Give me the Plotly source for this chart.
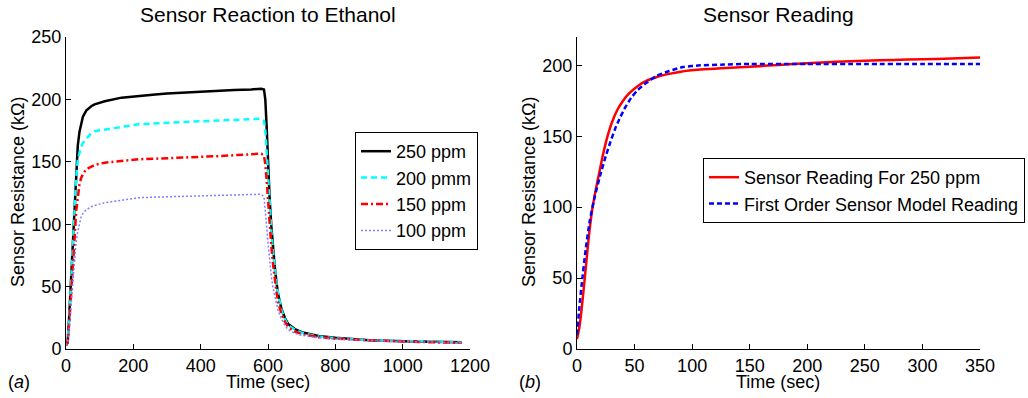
import plotly.graph_objects as go

# ---------- Left panel data (Sensor Reaction to Ethanol) ----------
t_a = [0, 5, 10, 15, 20, 25, 30, 35, 40, 45, 50, 60, 75, 85, 115, 165, 215, 265, 300, 350,
       400, 450, 500, 550, 580, 588, 592, 596, 600, 605, 610, 615, 620, 625, 630, 640, 650,
       660, 680, 700, 750, 800, 900, 1000, 1100, 1175]
r250 = [3, 5, 29, 56, 88, 114, 144, 163, 174, 181, 186, 191, 194.5, 196, 198.5, 201.4, 203,
        204, 204.7, 205.5, 206, 206.5, 207.5, 208, 208.5, 208, 200, 178, 150, 120, 98, 80, 66,
        54, 44, 32, 25, 20, 16, 13.5, 10.5, 9, 7, 6.3, 5.8, 5.5]
r200 = [3, 6, 26, 54, 86, 112, 136, 152, 158, 162, 165, 168.5, 173, 174.5, 176, 178, 180,
        180.8, 181.3, 182, 182.5, 183, 183.5, 184, 184.5, 183, 175, 158, 138, 112, 94, 78, 64,
        53, 44, 31, 24, 19, 15.5, 13, 10, 8.7, 7, 6.3, 5.8, 5.5]
r150 = [3, 6, 22, 42, 60, 86, 110, 122, 132, 137, 140, 144, 146.5, 147.5, 149.3, 150.5, 152,
        152.5, 153, 153.5, 154, 154.5, 155.5, 156, 156.5, 155, 148, 135, 118, 97, 82, 68, 56,
        46, 38, 28, 22, 17.5, 14, 12, 9.5, 8.3, 7, 6, 5.3, 5]
r100 = [3, 6, 18, 36, 55, 75, 86, 94, 100, 106, 108.5, 111.5, 114, 115, 117.2, 119.5, 121.2,
        121.7, 122, 122.5, 123, 123.3, 123.6, 124, 124, 122, 112, 98, 85, 70, 58, 49, 42, 36,
        31, 24, 19, 15.5, 12.5, 11, 9, 8, 6.8, 6, 5.5, 5]

# ---------- Right panel data (Sensor Reading) ----------
t_b = [0, 2, 4, 7, 10, 13, 16, 20, 23, 26, 30, 35, 40, 45, 52, 60, 70, 80, 90, 107, 125, 150,
       175, 200, 225, 250, 275, 300, 325, 350]
reading = [7, 15, 28, 52, 77, 97, 111, 127, 138.5, 148.5, 159, 168.5, 175, 180, 185, 189, 192,
           194, 195.5, 197, 198, 199, 200.3, 201.5, 202.5, 203.3, 203.8, 204.3, 204.8, 205.5]
t_m = [0, 2, 4, 7.5, 11, 15, 20, 25, 29, 33, 37, 42, 47, 52, 60, 69, 80, 92, 107, 125, 150,
       200, 250, 300, 350]
model = [10, 29, 45, 70, 90, 106, 122, 136, 146, 155, 162.5, 170.5, 177, 182, 187.5, 192.5,
         196, 198.8, 200, 200.5, 201, 201, 201, 201, 201]

xticks_a = [0, 200, 400, 600, 800, 1000, 1200]
yticks_a = [0, 50, 100, 150, 200, 250]
xticks_b = [0, 50, 100, 150, 200, 250, 300, 350]
yticks_b = [0, 50, 100, 150, 200]

FONT = "Liberation Sans, Arial, Helvetica, sans-serif"
W, H = 1028, 398


def px(sx):
    return sx / W


def py(sy):
    return 1 - sy / H


fig = go.Figure()
fig.add_trace(go.Scatter(x=t_a, y=r250, mode="lines", name="250 ppm",
                         line=dict(color="black", width=2.5), legend="legend"))
fig.add_trace(go.Scatter(x=t_a, y=r200, mode="lines", name="200 pmm",
                         line=dict(color="#00ffff", width=2.5, dash="6px,4px"), legend="legend"))
fig.add_trace(go.Scatter(x=t_a, y=r150, mode="lines", name="150 ppm",
                         line=dict(color="#ff0000", width=2.5, dash="7px,3px,2px,3px"),
                         legend="legend"))
fig.add_trace(go.Scatter(x=t_a, y=r100, mode="lines", name="100 ppm",
                         line=dict(color="#7f7fff", width=1.5, dash="2px,2px"), legend="legend"))

fig.add_trace(go.Scatter(x=t_b, y=reading, mode="lines", name="Sensor Reading For 250 ppm",
                         line=dict(color="#ff0000", width=2.5, shape="spline", smoothing=0.6),
                         xaxis="x2", yaxis="y2", legend="legend2"))
fig.add_trace(go.Scatter(x=t_m, y=model, mode="lines", name="First Order Sensor Model Reading",
                         line=dict(color="#0000ff", width=2.5, dash="5px,3px", shape="spline",
                                   smoothing=0.6),
                         xaxis="x2", yaxis="y2", legend="legend2"))

ydom = [py(349), py(37)]
axis_common = dict(showline=True, linecolor="black", linewidth=1, ticks="inside", ticklen=5,
                   tickcolor="black", showgrid=False, zeroline=False, automargin=False,
                   tickfont=dict(family=FONT, size=18, color="black"))

fig.update_layout(
    width=W, height=H,
    margin=dict(l=0, r=0, t=0, b=0, autoexpand=False),
    paper_bgcolor="white", plot_bgcolor="white",
    font=dict(family=FONT, color="black"),
    xaxis=dict(domain=[px(66), px(470)], range=[0, 1200], tickvals=xticks_a, anchor="y",
               **axis_common),
    yaxis=dict(domain=ydom, range=[0, 250], tickvals=yticks_a, anchor="x", **axis_common),
    xaxis2=dict(domain=[px(577), px(980)], range=[0, 350], tickvals=xticks_b, anchor="y2",
                **axis_common),
    yaxis2=dict(domain=ydom, range=[0, 220], tickvals=yticks_b, anchor="x2", **axis_common),
    legend=dict(x=px(355), y=py(132), xanchor="left", yanchor="top",
                bordercolor="black", borderwidth=1, bgcolor="white",
                font=dict(family=FONT, size=18, color="black"), itemwidth=30,
                tracegroupgap=0),
    legend2=dict(x=px(703), y=py(158), xanchor="left", yanchor="top",
                 bordercolor="black", borderwidth=1, bgcolor="white",
                 font=dict(family=FONT, size=18, color="black"), itemwidth=30,
                 tracegroupgap=0),
    showlegend=True,
)


def ann(text, sx, sy, size=18, angle=0):
    fig.add_annotation(text=text, x=px(sx), y=py(sy), xref="paper", yref="paper",
                       showarrow=False, xanchor="center", yanchor="middle", textangle=angle,
                       font=dict(family=FONT, size=size, color="black"))


ann("Sensor Reaction to Ethanol", 268, 15, size=21)
ann("Sensor Reading", 778, 15, size=21)
ann("Time (sec)", 268, 382)
ann("Time (sec)", 778, 382)
ann("Sensor Resistance (kΩ)", 18, 192, angle=-90)
ann("Sensor Resistance (kΩ)", 529, 192, angle=-90)
ann("(<i>a</i>)", 19, 382)
ann("(<i>b</i>)", 530, 382)

# remove the browser's default page margin so the 1028x398 figure fills the window exactly
fig.write_html("out.html",
               config={"displayModeBar": False},
               post_script="document.body.style.margin='0';document.body.style.overflow='hidden';")
